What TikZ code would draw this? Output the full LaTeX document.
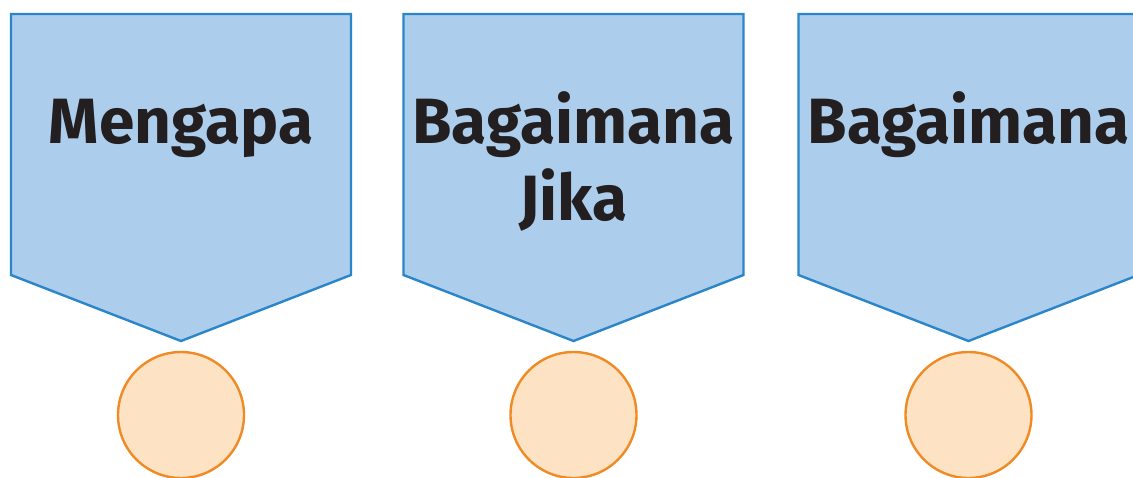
\documentclass[tikz,border=0pt]{standalone}
\usepackage{fontspec}
\setmainfont{Fira Sans}
\definecolor{tagfill}{HTML}{ADCDEC}
\definecolor{tagline}{HTML}{2A86C8}
\definecolor{dotfill}{HTML}{FDE3C3}
\definecolor{dotline}{HTML}{F08A24}
\definecolor{ink}{HTML}{231F20}
\tikzset{
  tag/.style={fill=tagfill, draw=tagline, line width=2.4pt, line join=miter},
  dot/.style={circle, minimum size=126pt, inner sep=0pt, fill=dotfill, draw=dotline, line width=2.4pt},
  word/.style={font=\fontsize{64}{77}\selectfont\bfseries, text=ink, anchor=base, inner sep=0pt, align=center},
}
\begin{document}
\begin{tikzpicture}[x=1pt,y=-1pt]
  \useasboundingbox (0,0) rectangle (1133,477);
  \clip (0,0) rectangle (1133,477);
  % pentagon tags pointing down, each with a round marker beneath
  \foreach \cx/\nm in {181/a, 573.5/b, 968.5/c} {
    \draw[tag] (\cx-170,14) -- (\cx+170,14) -- (\cx+170,275) -- (\cx,341) -- (\cx-170,275) -- cycle;
    \node[dot] (dot-\nm) at (\cx,415) {};
  }
  \node[word] (t1) at (181,143) {Mengapa};
  \node[word] (t2) at (573.5,143) {Bagaimana};
  \node[word] (t2b) at (573.5,220) {Jika};
  \node[word] (t3) at (968.5,143) {Bagaimana};
\end{tikzpicture}
\end{document}
